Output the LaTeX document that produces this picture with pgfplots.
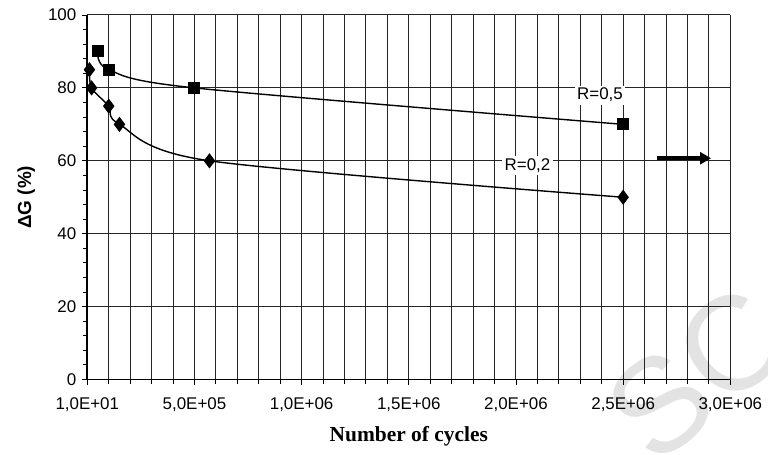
\documentclass[border=0pt]{standalone}
\usepackage{pgfplots}
\pgfplotsset{compat=1.18}
\usetikzlibrary{arrows.meta}
\usepackage{fontspec}
\setmainfont{Liberation Sans}
\newfontfamily\timesf{Liberation Serif}

\begin{document}
\begin{tikzpicture}
% faint watermark letters behind the chart
\node[text=black!11, font=\fontsize{134}{134}\selectfont, rotate=40, anchor=center, inner sep=0pt]
  at (610bp,6bp) {SC};
\begin{axis}[
  scale only axis, width=643bp, height=364.5bp,
  xmin=10, xmax=3000000, ymin=0, ymax=100,
  axis x line=bottom, axis y line=left,
  axis line style={-, line width=1.6bp, black},
  clip=false,
  xtick={10,500000,1000000,1500000,2000000,2500000,3000000},
  xticklabels={{1,0E+01},{5,0E+05},{1,0E+06},{1,5E+06},{2,0E+06},{2,5E+06},{3,0E+06}},
  minor xtick={100000,200000,300000,400000,600000,700000,800000,900000,
    1100000,1200000,1300000,1400000,1600000,1700000,1800000,1900000,
    2100000,2200000,2300000,2400000,2600000,2700000,2800000,2900000},
  ytick={0,20,40,60,80,100},
  minor ytick={4,8,12,16,24,28,32,36,44,48,52,56,64,68,72,76,84,88,92,96},
  scaled x ticks=false,
  /pgf/number format/assume math mode=true,
  tick align=outside,
  major tick length=5.5bp, minor tick length=4.5bp,
  tick style={black, line width=0.9bp},
  xmajorgrids=true, xminorgrids=true, ymajorgrids=true,
  major grid style={black!85, line width=1bp},
  minor grid style={black!85, line width=1bp},
  tick label style={font=\fontsize{17}{20}\selectfont},
  xticklabel style={yshift=-9bp},
  yticklabel style={xshift=-2bp},
  xlabel={\timesf\bfseries Number of cycles},
  ylabel={\bfseries ΔG (\%)},
  every axis x label/.style={at={(axis description cs:0.5,-0.155)}, anchor=center,
    font=\fontsize{21.5}{24}\selectfont},
  every axis y label/.style={at={(axis description cs:-0.095,0.5)}, anchor=center,
    rotate=90, font=\fontsize{19}{22}\selectfont},
]
% R=0,2
\addplot[black, line width=1.4bp, smooth, mark=diamond*, mark size=6.5bp,
  mark options={solid, fill=black}] coordinates {
(10000,85) (20000,80) (100000,75) (150000,70) (570000,60) (2500000,50)
};
% R=0,5
\addplot[black, line width=1.4bp, smooth, mark=square*, mark size=5.3bp,
  mark options={solid, fill=black}] coordinates {
(50000,90) (100000,85) (500000,80) (2500000,70)
};
\node[fill=white, inner sep=2.5bp, font=\fontsize{17}{20}\selectfont]
  at (axis cs:2392000,78.05) {R=0,5};
\node[fill=white, inner sep=2.5bp, font=\fontsize{17}{20}\selectfont]
  at (axis cs:2054000,58.8) {R=0,2};
\draw[line width=3.5bp, -{Triangle[length=11bp,width=12bp]}]
  (axis cs:2657000,60.7) -- (axis cs:2910000,60.7);
\end{axis}
\pgfresetboundingbox
\path[use as bounding box] (-87.3bp,-75.5bp) rectangle (680.7bp,379.5bp);
\end{tikzpicture}
\end{document}
